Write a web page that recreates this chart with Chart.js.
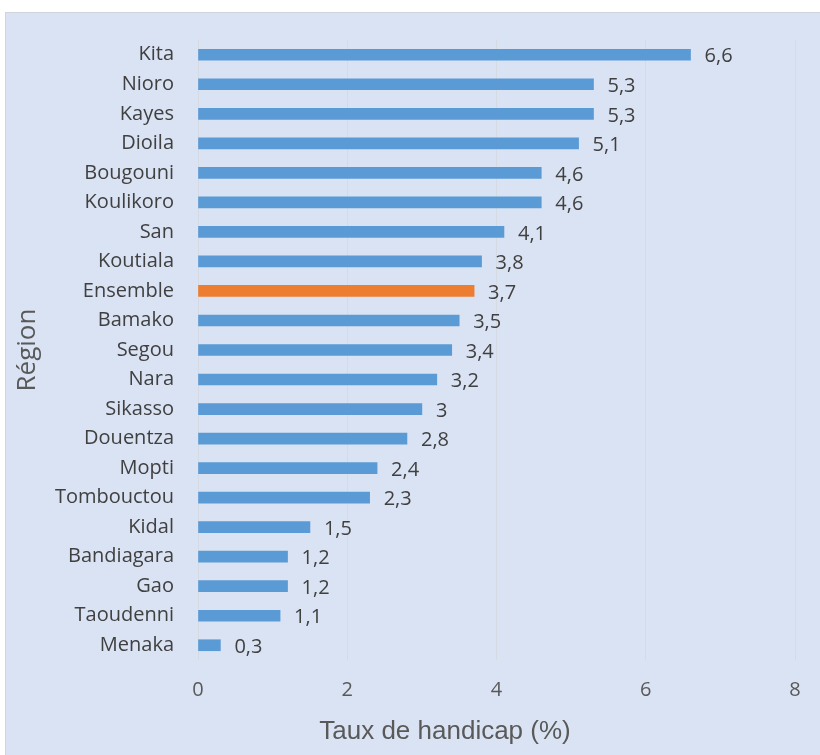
<!DOCTYPE html>
<html>
<head>
<meta charset="utf-8">
<script src="https://cdn.jsdelivr.net/npm/chart.js@4.4.1/dist/chart.umd.min.js"></script>
<style>
  body { margin: 0; background: #fff; }
  #wrap { position: relative; width: 820px; height: 755px; overflow: hidden; }
  #panel { position: absolute; left: 5px; top: 12px; width: 830px; height: 760px;
           background: #dae3f3; border: 1px solid #d0d4dc; box-sizing: border-box; }
  #chart { position: absolute; left: 0; top: 0; }
</style>
</head>
<body>
<div id="wrap">
  <div id="panel"></div>
  <canvas id="chart" width="820" height="755"></canvas>
</div>
<script>
// ---- data ----
const REGIONS = ["Kita", "Nioro", "Kayes", "Dioila", "Bougouni", "Koulikoro", "San", "Koutiala",
  "Ensemble", "Bamako", "Segou", "Nara", "Sikasso", "Douentza", "Mopti", "Tombouctou",
  "Kidal", "Bandiagara", "Gao", "Taoudenni", "Menaka"];
const RATES = [6.6, 5.3, 5.3, 5.1, 4.6, 4.6, 4.1, 3.8, 3.7, 3.5, 3.4, 3.2, 3.0, 2.8, 2.4, 2.3,
  1.5, 1.2, 1.2, 1.1, 0.3];
const X_TICKS = [0, 2, 4, 6, 8];
const X_TITLE = "Taux de handicap (%)";

const BLUE = "#5b9bd5";
const ORANGE = "#ed7d31";
const FONT = "'Open Sans', sans-serif";

const barColors = REGIONS.map(r => r === "Ensemble" ? ORANGE : BLUE);

// value labels with french decimal comma + x-axis title (centred on the whole panel, like Excel)
const valueLabels = {
  id: "valueLabels",
  afterDatasetsDraw(chart) {
    const ctx = chart.ctx;
    const meta = chart.getDatasetMeta(0);
    ctx.save();
    ctx.font = "20px " + FONT;
    ctx.fillStyle = "#404040";
    ctx.textAlign = "left";
    ctx.textBaseline = "middle";
    meta.data.forEach((bar, i) => {
      const txt = String(RATES[i]).replace(".", ",");
      ctx.fillText(txt, bar.x + 14, bar.y + 2);
    });

    ctx.font = "26px 'Liberation Sans', Arial, sans-serif";
    ctx.fillStyle = "#595959";
    ctx.textAlign = "center";
    ctx.textBaseline = "alphabetic";
    ctx.fillText(X_TITLE, 445, 739);
    ctx.restore();
  }
};

new Chart(document.getElementById("chart"), {
  type: "bar",
  data: {
    labels: REGIONS,
    datasets: [{
      data: RATES,
      backgroundColor: barColors,
      barThickness: 11
    }]
  },
  options: {
    indexAxis: "y",
    responsive: false,
    animation: false,
    layout: { padding: { top: 40, right: 25, left: 0, bottom: 0 } },
    plugins: {
      legend: { display: false },
      tooltip: { enabled: false }
    },
    scales: {
      x: {
        min: 0, max: 8,
        afterBuildTicks: (axis) => { axis.ticks = X_TICKS.map(v => ({ value: v })); },
        afterFit: (axis) => { axis.height = 95; },
        grid: { color: "#d6dbe3", drawTicks: false, lineWidth: 1 },
        border: { display: false },
        ticks: { color: "#595959", font: { family: FONT, size: 20 }, padding: 18 },
        title: { display: false }
      },
      y: {
        afterFit: (axis) => { axis.width = 198; },
        grid: { display: false, drawTicks: false },
        border: { display: false },
        ticks: { color: "#404040", font: { family: FONT, size: 20 }, padding: 24, autoSkip: false },
        title: { display: true, text: "Région", color: "#595959",
                 font: { family: FONT, size: 26 }, padding: { top: 12, bottom: 0 } }
      }
    }
  },
  plugins: [valueLabels]
});
</script>
</body>
</html>
